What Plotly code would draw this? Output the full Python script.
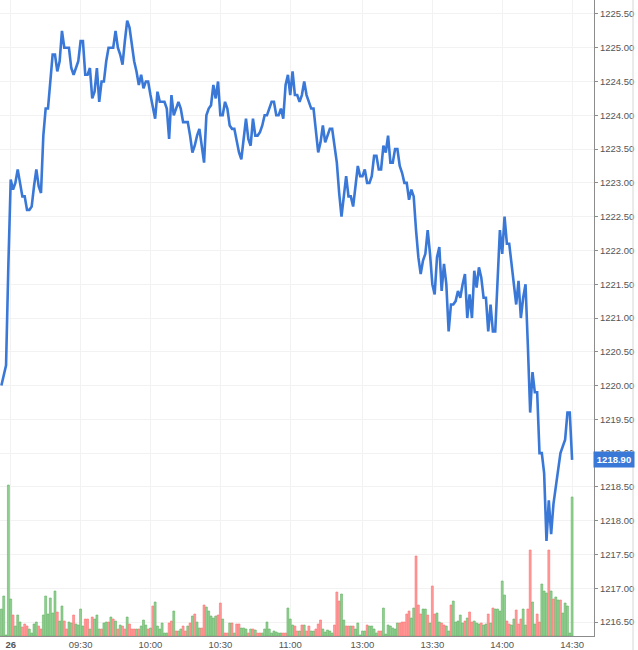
import plotly.graph_objects as go

# ---- data -------------------------------------------------------------
first_bar = -4  # a few bars of the previous session before "26" (09:00)

time_tick_bars = [0, 30, 60, 90, 120, 151, 181, 211, 241]
time_tick_labels = ["<b>26</b>", "09:30", "10:00", "10:30", "11:00",
                    "13:00", "13:30", "14:00", "14:30"]

price_ticks = [1216.5, 1217.0, 1217.5, 1218.0, 1218.5, 1219.0, 1219.5, 1220.0,
               1220.5, 1221.0, 1221.5, 1222.0, 1222.5, 1223.0, 1223.5, 1224.0,
               1224.5, 1225.0, 1225.5]

last_price = 1218.90

prices = [
    1220.0, 1220.15, 1220.3, 1221.8,
    1223.05, 1222.9, 1223.0, 1223.2, 1223.0, 1222.8, 1222.8, 1222.6, 1222.6, 1222.65,
    1222.95, 1223.2, 1222.95, 1222.85, 1223.7, 1224.1, 1224.1, 1224.5, 1224.9, 1224.9,
    1224.65, 1224.8, 1225.25, 1225.0, 1225.0, 1225.0, 1224.7, 1224.6, 1224.7, 1224.8,
    1225.1, 1225.1, 1224.6, 1224.6, 1224.7, 1224.25, 1224.35, 1224.7, 1224.2, 1224.5,
    1224.5, 1224.8, 1225.0, 1225.0, 1225.0, 1225.25, 1225.0, 1224.9, 1224.75, 1225.1,
    1225.4, 1225.3, 1225.05, 1224.8, 1224.65, 1224.45, 1224.6, 1224.4, 1224.5, 1224.5,
    1224.3, 1224.1, 1223.95, 1224.35, 1224.2, 1224.2, 1224.2, 1224.1, 1223.65, 1224.3,
    1224.0, 1224.1, 1224.2, 1224.1, 1223.9, 1223.9, 1223.9, 1223.7, 1223.45, 1223.55,
    1223.7, 1223.8, 1223.55, 1223.3, 1224.0, 1224.1, 1224.15, 1224.45, 1224.25, 1224.5,
    1224.0, 1224.0, 1224.2, 1224.1, 1223.85, 1223.8, 1223.8, 1223.6, 1223.45, 1223.35,
    1223.65, 1223.95, 1223.65, 1223.55, 1223.95, 1223.7, 1223.7, 1223.75, 1223.85, 1224.0,
    1224.0, 1224.1, 1224.2, 1224.2, 1224.0, 1224.0, 1224.1, 1223.95, 1224.45, 1224.6,
    1224.3, 1224.65, 1224.3, 1224.3, 1224.2, 1224.3, 1224.5, 1224.3, 1224.2, 1224.1,
    1224.1, 1223.8, 1223.45, 1223.6, 1223.85, 1223.6, 1223.7, 1223.8, 1223.8, 1223.55,
    1223.3, 1222.85, 1222.5, 1222.8, 1223.1, 1222.8, 1222.8, 1222.65, 1222.95, 1223.25,
    1223.1, 1223.1, 1223.2, 1223.0, 1223.0, 1223.1, 1223.4, 1223.4, 1223.2, 1223.2,
    1223.55, 1223.45, 1223.7, 1223.3, 1223.3, 1223.5, 1223.5, 1223.25, 1223.15, 1223.0,
    1223.0, 1222.75, 1222.9, 1222.8, 1222.3, 1221.9, 1221.65, 1221.85, 1221.95, 1222.3,
    1221.95, 1221.5, 1221.35, 1221.9, 1222.05, 1221.4, 1221.8, 1221.5, 1220.8, 1221.2,
    1221.2, 1221.25, 1221.4, 1221.3, 1221.5, 1221.65, 1221.0, 1221.35, 1221.0, 1221.7,
    1221.45, 1221.75, 1221.6, 1221.3, 1221.3, 1220.8, 1221.2, 1220.8, 1220.8, 1221.6,
    1222.3, 1221.95, 1222.5, 1222.1, 1222.1, 1221.8, 1221.45, 1221.2, 1221.55, 1221.0,
    1221.3, 1221.5, 1220.6, 1219.6, 1220.2, 1219.9, 1219.9, 1219.0, 1219.0, 1218.7,
    1217.7, 1218.3, 1217.8, 1218.25, 1218.5, 1218.75, 1219.0, 1219.1, 1219.2, 1219.6,
    1219.6, 1218.9,
]

# volume in lots, and whether the bar closed up (1) or down (0)
volumes = [
    270, 400, 10, 1510,
    370, 210, 100, 210, 140, 90, 120, 100, 70, 30,
    120, 140, 100, 70, 210, 400, 220, 380, 230, 450,
    240, 150, 300, 150, 70, 140, 130, 210, 120, 110,
    270, 100, 170, 170, 70, 190, 170, 210, 70, 70,
    130, 140, 140, 190, 170, 150, 70, 110, 100, 70,
    190, 120, 70, 70, 70, 70, 100, 160, 110, 70,
    80, 300, 340, 100, 70, 130, 30, 30, 130, 150,
    250, 50, 50, 70, 100, 50, 100, 130, 200, 220,
    140, 80, 80, 310, 290, 250, 200, 180, 200, 210,
    330, 170, 30, 30, 130, 130, 30, 120, 120, 80,
    80, 70, 30, 70, 70, 60, 30, 30, 30, 70,
    140, 70, 30, 50, 40, 30, 30, 30, 30, 280,
    170, 110, 100, 50, 50, 110, 110, 50, 100, 50,
    50, 70, 120, 160, 70, 40, 60, 50, 30, 110,
    440, 350, 420, 160, 100, 100, 100, 100, 70, 130,
    10, 50, 50, 110, 100, 100, 70, 30, 50, 50,
    280, 20, 110, 100, 80, 70, 130, 130, 140, 140,
    220, 250, 180, 280, 800, 310, 220, 270, 270, 210,
    130, 500, 220, 230, 140, 130, 110, 100, 50, 310,
    350, 140, 150, 210, 130, 150, 180, 240, 140, 150,
    130, 120, 130, 110, 120, 220, 130, 280, 270, 270,
    250, 550, 410, 150, 120, 110, 170, 260, 120, 170,
    270, 110, 270, 860, 340, 120, 220, 140, 520, 450,
    430, 860, 450, 370, 390, 360, 360, 230, 330, 300,
    30, 1390,
]

vol_up = [
    1, 1, 1, 1,
    1, 0, 1, 1, 1, 0, 0, 0, 1, 1,
    1, 1, 0, 0, 1, 1, 1, 1, 1, 1,
    0, 1, 1, 0, 0, 1, 1, 0, 1, 1,
    1, 1, 0, 0, 1, 0, 1, 1, 1, 0,
    1, 1, 0, 1, 0, 1, 0, 1, 0, 0,
    1, 0, 0, 0, 1, 0, 1, 1, 1, 0,
    1, 0, 1, 1, 1, 1, 1, 1, 0, 0,
    1, 0, 1, 1, 0, 0, 1, 0, 1, 0,
    1, 1, 0, 0, 1, 1, 1, 1, 1, 0,
    0, 1, 0, 0, 1, 0, 1, 0, 0, 1,
    1, 1, 0, 1, 0, 1, 0, 0, 1, 1,
    1, 1, 1, 1, 1, 1, 1, 0, 0, 1,
    1, 1, 0, 0, 1, 0, 1, 0, 0, 1,
    1, 0, 0, 0, 1, 1, 1, 1, 1, 0,
    0, 0, 1, 1, 0, 0, 1, 0, 1, 1,
    1, 1, 1, 0, 1, 1, 1, 1, 0, 0,
    1, 1, 1, 1, 1, 1, 1, 0, 0, 0,
    0, 0, 1, 1, 0, 0, 0, 1, 1, 0,
    1, 0, 0, 1, 1, 0, 0, 1, 1, 0,
    1, 1, 1, 1, 1, 0, 1, 0, 0, 1,
    1, 1, 0, 1, 1, 0, 1, 0, 1, 1,
    1, 1, 1, 0, 0, 1, 1, 0, 0, 0,
    1, 1, 0, 0, 1, 1, 0, 0, 1, 1,
    1, 0, 1, 0, 1, 1, 0, 1, 1, 1,
    1, 1,
]

# ---- figure -----------------------------------------------------------
bars = list(range(first_bar, first_bar + len(prices)))

GREEN_FILL, GREEN_EDGE = "#93d193", "#62b262"
RED_FILL, RED_EDGE = "#ff9c9c", "#ff6e6e"
fills = [GREEN_FILL if u else RED_FILL for u in vol_up]
edges = [GREEN_EDGE if u else RED_EDGE for u in vol_up]

AXIS_FONT = dict(family="Liberation Sans, Arial, sans-serif", size=9.5, color="#555555")
GRID = "#f2f2f2"
AXIS_LINE = "#8c8c8c"

fig = go.Figure()
fig.add_trace(go.Bar(
    x=bars, y=volumes, yaxis="y2", width=0.82,
    marker=dict(color=fills, line=dict(color=edges, width=0.6)),
    hoverinfo="skip",
))
fig.add_trace(go.Scatter(
    x=bars, y=prices, mode="lines",
    line=dict(color="#3a78d8", width=2.6),
    hoverinfo="skip",
))

fig.update_layout(
    width=638, height=650,
    margin=dict(l=0, r=44, t=0, b=14, autoexpand=False),
    paper_bgcolor="white", plot_bgcolor="white",
    showlegend=False,
    xaxis=dict(
        range=[-4.6, 250.4], automargin=False,
        tickmode="array", tickvals=time_tick_bars, ticktext=time_tick_labels,
        showgrid=True, gridcolor=GRID, gridwidth=1,
        showline=True, linecolor=AXIS_LINE, linewidth=1,
        ticks="", zeroline=False, tickfont=AXIS_FONT, fixedrange=True,
    ),
    yaxis=dict(
        side="right", range=[1216.293, 1225.707], automargin=False,
        tickmode="array", tickvals=price_ticks,
        ticktext=[f"{v:.2f}" for v in price_ticks],
        showgrid=True, gridcolor=GRID, gridwidth=1,
        showline=True, linecolor=AXIS_LINE, linewidth=1,
        ticks="outside", ticklen=3, tickcolor=AXIS_LINE,
        zeroline=False, tickfont=AXIS_FONT, fixedrange=True,
    ),
    yaxis2=dict(overlaying="y", range=[0, 6360], visible=False, fixedrange=True),
    shapes=[dict(type="line", xref="paper", yref="paper",
                 x0=633 / 594, x1=633 / 594, y0=-14 / 636, y1=1,
                 line=dict(color="#d6d6d6", width=1))],
    annotations=[dict(
        xref="paper", x=1, xanchor="left", xshift=-1,
        yref="y", y=last_price, yanchor="middle",
        text=f"<b>{last_price:.2f}</b>", showarrow=False,
        font=dict(family="Liberation Sans, Arial, sans-serif", size=9.5, color="white"),
        bgcolor="#3a78d8", borderpad=2, width=36, align="center",
    )],
)

fig.write_html(
    "out.html",
    config={"displayModeBar": False},
    post_script="document.body.style.margin='0';document.body.style.padding='0';"
                "document.body.style.overflow='hidden';",
)
